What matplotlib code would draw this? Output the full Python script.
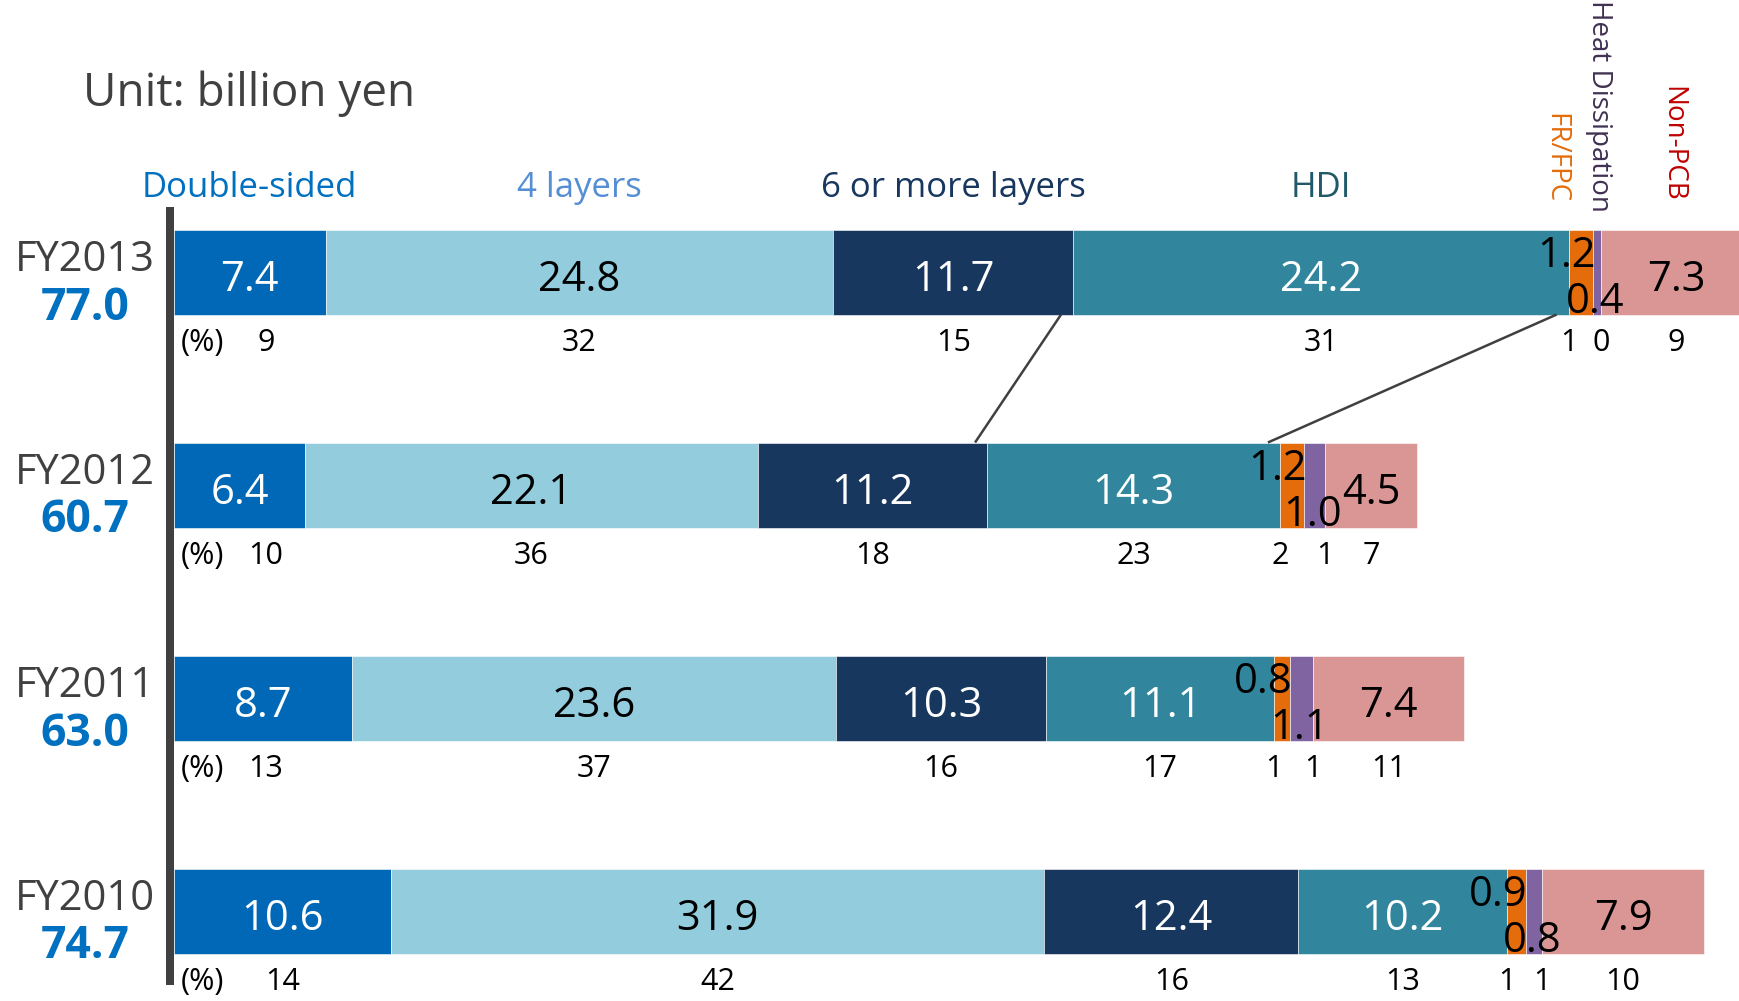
import matplotlib
matplotlib.use("Agg")
import matplotlib.pyplot as plt
from matplotlib.lines import Line2D
from matplotlib.transforms import offset_copy
import numpy as np

plt.rcParams['font.family'] = ['Open Sans', 'DejaVu Sans']

# ---- data (billion yen) ----
years = ['FY2013', 'FY2012', 'FY2011', 'FY2010']
totals = [77.0, 60.7, 63.0, 74.7]
categories = ['Double-sided', '4 layers', '6 or more layers', 'HDI',
              'FR/FPC', 'Heat Dissipation', 'Non-PCB']
double_sided = [7.4, 6.4, 8.7, 10.6]
four_layers = [24.8, 22.1, 23.6, 31.9]
six_plus = [11.7, 11.2, 10.3, 12.4]
hdi = [24.2, 14.3, 11.1, 10.2]
fr_fpc = [1.2, 1.2, 0.8, 0.9]
heat_dissipation = [0.4, 1.0, 1.1, 0.8]
non_pcb = [7.3, 4.5, 7.4, 7.9]

# composition ratio (%)
pct_double = [9, 10, 13, 14]
pct_four = [32, 36, 37, 42]
pct_six = [15, 18, 16, 16]
pct_hdi = [31, 23, 17, 13]
pct_fr = [1, 2, 1, 1]
pct_heat = [0, 1, 1, 1]
pct_non = [9, 7, 11, 10]

# ---- styling ----
bar_colors = ['#0068b7', '#93cddd', '#17375e', '#31859c', '#e46c0a', '#8064a2', '#d99694']
head_colors = ['#0070c0', '#558ed5', '#17375e', '#215968', '#e46c0a', '#403152', '#c00000']
value_colors = ['white', 'black', 'white', 'white', 'black', 'black', 'black']
DARK = '#404040'

W, H = 1740, 1001
fig = plt.figure(figsize=(W / 100, H / 100), dpi=100)

x0_px = 174
px_per_unit = 20.48
row_px = 213.0
first_row_px = 272.0
ax = fig.add_axes([x0_px / W, 0, (W - x0_px) / W, 1])
ax.set_xlim(0, (W - x0_px) / px_per_unit)
ax.set_ylim((H - first_row_px) / row_px, -first_row_px / row_px)
ax.axis('off')

series = [double_sided, four_layers, six_plus, hdi, fr_fpc, heat_dissipation, non_pcb]
pcts = [pct_double, pct_four, pct_six, pct_hdi, pct_fr, pct_heat, pct_non]
data = np.array(series).T          # rows = years
lefts = np.hstack([np.zeros((len(years), 1)), np.cumsum(data, axis=1)[:, :-1]])
rows = np.arange(len(years))
bar_h = 85 / row_px

for k in range(len(categories)):
    ax.barh(rows, data[:, k], left=lefts[:, k], height=bar_h,
            color=bar_colors[k], edgecolor='white', linewidth=0.4)


def px(dx=0, dy=0):
    return offset_copy(ax.transData, fig=fig, x=dx, y=-dy, units='dots')


val_fs = 30
pct_fs = 22
first_pct_min = 92 / px_per_unit   # keep the first share clear of the "(%)" tag
for i in rows:
    for k in range(len(categories)):
        v = data[i, k]
        l = lefts[i, k]
        if k == 4:      # FR/FPC: label above, flush right with the segment
            ax.text(l + v, i, f'{v:.1f}', ha='right', va='center', fontsize=val_fs,
                    color='black', transform=px(2, -16))
        elif k == 5:    # heat dissipation: label below
            ax.text(l + v / 2, i, f'{v:.1f}', ha='center', va='center', fontsize=val_fs,
                    color='black', transform=px(-2, 30))
        else:
            ax.text(l + v / 2, i, f'{v:.1f}', ha='center', va='center', fontsize=val_fs,
                    color=value_colors[k], transform=px(0, 8))
        # percentage row
        p = pcts[k][i]
        if k == 0:
            xp = max(l + v / 2, first_pct_min)
        elif k == 4:
            xp = l
        elif k == 5:
            xp = l + v
        else:
            xp = l + v / 2
        ax.text(xp, i, str(p), ha='center', va='center', fontsize=pct_fs,
                color='black', transform=px(0, 71))
    ax.text(0, i, '(%)', ha='left', va='center', fontsize=pct_fs, color='black',
            transform=px(181 - x0_px, 71))

    # year and total
    ycen = first_row_px + row_px * i
    fig.text(85 / W, 1 - (ycen - 12) / H, years[i], ha='center', va='center',
             fontsize=30, color=DARK)
    fig.text(85 / W, 1 - (ycen + 36) / H, f'{totals[i]:.1f}', ha='center', va='center',
             fontsize=32, color='#0070c0', fontweight='bold')

# connectors between FY2013 and FY2012
for k in (2, 3):
    xa = lefts[0, k] + data[0, k]
    xb = lefts[1, k] + data[1, k]
    ax.plot([xa, xb], [0 + bar_h / 2, 1 - bar_h / 2], color=DARK, lw=1.8,
            transform=px(-12, 0), solid_capstyle='butt')

# category headers
head_y = 1 - 188 / H
for k in range(4):
    xc = lefts[0, k] + data[0, k] / 2
    ax.text(xc, head_y, categories[k], ha='center', va='center', fontsize=25,
            color=head_colors[k], transform=ax.get_xaxis_transform())
rot_bottom = {4: 203, 5: 212, 6: 202}
rot_dx = {4: -26, 5: 2, 6: -4}
for k in (4, 5, 6):
    xc = lefts[0, k] + data[0, k] / 2
    ax.text(xc, 1 - rot_bottom[k] / H, categories[k], ha='center', va='bottom',
            rotation=270, fontsize=20, color=head_colors[k],
            transform=offset_copy(ax.get_xaxis_transform(), fig=fig,
                                  x=rot_dx[k], y=0, units='dots'))

# unit note
fig.text(83 / W, 1 - 94 / H, 'Unit: billion yen', ha='left', va='center',
         fontsize=33, color=DARK)

# vertical base line
fig.add_artist(Line2D([170 / W, 170 / W], [1 - 207 / H, 1 - 985 / H],
                      transform=fig.transFigure, color=DARK, lw=8 * 0.72,
                      solid_capstyle='butt'))

fig.savefig('out.png', dpi=100)
